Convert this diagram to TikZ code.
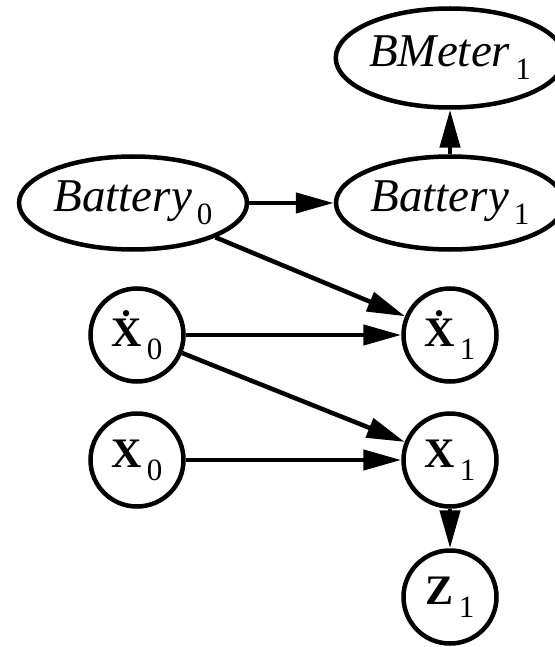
\documentclass[tikz,border=0pt]{standalone}
\usepackage{fontspec}
\setmainfont{Liberation Serif}
\usetikzlibrary{calc, arrows.meta, shapes.geometric}
\newcommand{\idx}[1]{\hspace{5pt}\raisebox{-13pt}{\fontsize{31}{31}\selectfont #1}}
\newcommand{\bvar}[2]{\textbf{#1}\idx{#2}}
\newcommand{\ivar}[2]{{\fontsize{47}{52}\selectfont\textit{#1}}\idx{#2}}

\tikzset{
  ell/.style={ellipse, draw, line width=4.5pt, minimum width=228pt, minimum height=93pt, inner sep=0pt},
  circ/.style={circle, draw, line width=4.5pt, minimum size=93pt, inner sep=0pt},
  edge/.style={line width=4.5pt, -{Triangle[length=38pt,width=20pt]}}
}

\begin{document}
\begin{tikzpicture}[x=1pt, y=-1pt, font=\fontsize{42}{48}\selectfont]
        \useasboundingbox (0,0) rectangle (554,647);

        \node[ell, minimum height=99pt] (bmeter1) at (450,58) {\ivar{BMeter}{1}};
        \node[ell] (battery0) at (133,203) {\ivar{Battery}{0}};
        \node[ell] (battery1) at (450,203) {\ivar{Battery}{1}};

        \node[circ] (xdot0) at (137,335) {\bvar{\.{X}}{0}};
        \node[circ] (xdot1) at (450,335) {\bvar{\.{X}}{1}};
        \node[circ] (x0) at (137,460) {\bvar{X}{0}};
        \node[circ] (x1) at (450,460) {\bvar{X}{1}};
        \node[circ] (z1) at (450,597) {\bvar{Z}{1}};

        \draw[edge] (battery1) -- (bmeter1);
        \draw[edge] (battery0) -- (battery1);
        \draw[edge] (battery0) -- (xdot1);
        \draw[edge] (xdot0) -- (xdot1);
        \draw[edge] (xdot0) -- (x1);
        \draw[edge] (x0) -- (x1);
        \draw[edge] (x1) -- (z1);
    \end{tikzpicture}
\end{document}
